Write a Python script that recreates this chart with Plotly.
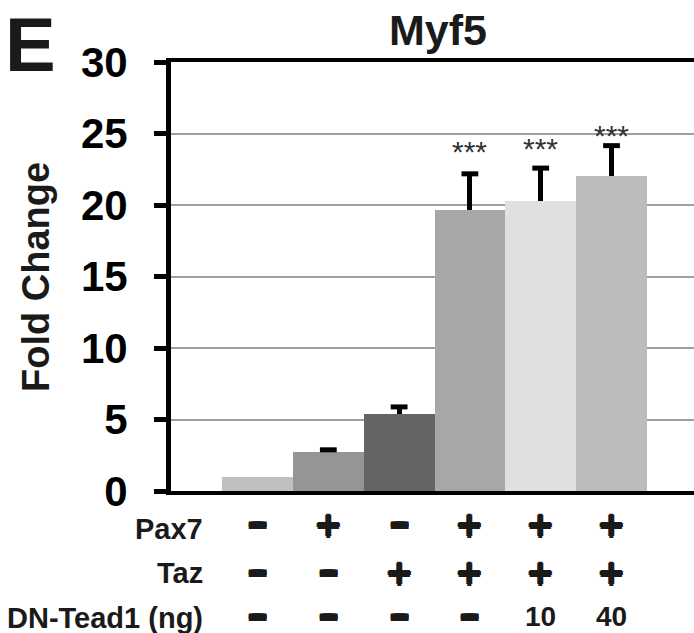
import plotly.graph_objects as go

# ---------------- data ----------------
conditions = ["C1", "C2", "C3", "C4", "C5", "C6"]
fold_change = [1.0, 2.73, 5.38, 19.65, 20.28, 22.05]
error_up = [0.0, 0.15, 0.5, 2.53, 2.3, 2.1]
significance = ["", "", "", "***", "***", "***"]
row_labels = ["Pax7", "Taz", "DN-Tead1 (ng)"]
pax7 = ["-", "+", "-", "+", "+", "+"]
taz = ["-", "-", "+", "+", "+", "+"]
dn_tead1 = ["-", "-", "-", "-", "10", "40"]
y_ticks = [0, 5, 10, 15, 20, 25, 30]
title_text = "Myf5"
panel_letter = "E"
y_title = "Fold Change"

# ---------------- styles ----------------
bar_colors = ["#c0c0c0", "#959595", "#646464", "#a7a7a5", "#e0e0e0", "#bcbcbc"]
FONT = "Liberation Sans, Arial, Helvetica, sans-serif"
SIGN_FONT = "DejaVu Sans, Liberation Sans, sans-serif"
INK = "#1a1a1a"
HEAVY_PLUS = ", ".join("%s %s 0 %s" % (dx, dy, INK) for dx, dy in
                       [("1px", "0"), ("-1px", "0"), ("0", "1.5px"), ("0", "-1.5px")])
HEAVY_DASH = ", ".join("%spx %spx 0 %s" % (dx, dy, INK)
                       for dx in (-4, -2, 0, 2, 4) for dy in (-1.5, 0, 1.5)
                       if not (dx == 0 and dy == 0))
W_PX, H_PX = 694, 633
L, R, T, B = 171, 0, 62, 142
PW = W_PX - L - R
PH = H_PX - T - B


def px_x(px):
    return (px - L) / PW


def px_y(py):
    return (H_PX - B - py) / PH


x_idx = list(range(len(conditions)))

fig = go.Figure()
fig.add_trace(go.Bar(
    x=x_idx, y=fold_change,
    marker=dict(color=bar_colors, line=dict(width=0)),
    width=1.0,
    error_y=dict(type="data", symmetric=False, array=error_up,
                 arrayminus=[0] * len(error_up), width=0,
                 thickness=5, color="#000000"),
    showlegend=False, hoverinfo="skip",
))
# error-bar caps
cap_x = [i for i, e in zip(x_idx, error_up) if e > 0]
cap_y = [v + e for v, e in zip(fold_change, error_up) if e > 0]
fig.add_trace(go.Scatter(
    x=cap_x, y=cap_y, mode="markers",
    marker=dict(symbol="line-ew", size=12, line=dict(width=5, color="#000000"), color="#000000"),
    showlegend=False, hoverinfo="skip",
))

annotations = []
# significance stars
star_shift = [0, 0, 0, 22, 20, 10]
for i, s in enumerate(significance):
    if s:
        annotations.append(dict(
            x=i, y=fold_change[i] + error_up[i], xref="x", yref="y",
            text=s, showarrow=False, yshift=star_shift[i],
            font=dict(family=FONT, size=30, color="#333333"),
        ))

# title, panel letter, y title
annotations.append(dict(x=px_x(438), y=px_y(30), xref="paper", yref="paper",
                        text=title_text, showarrow=False, xanchor="center", yanchor="middle",
                        font=dict(family=FONT, size=43, color=INK, weight="bold")))
annotations.append(dict(x=px_x(30), y=px_y(45), xref="paper", yref="paper",
                        text=panel_letter, showarrow=False, xanchor="center", yanchor="middle",
                        font=dict(family=FONT, size=76, color=INK, weight="bold")))
annotations.append(dict(x=px_x(35.5), y=px_y(277.5), xref="paper", yref="paper",
                        text=y_title, showarrow=False, textangle=-90,
                        xanchor="center", yanchor="middle",
                        font=dict(family=FONT, size=38, color=INK, weight="bold")))

# condition table below the axis
row_label_y = [528.5, 573, 618]
row_sign_y = [524, 572, 616]
rows = [pax7, taz, dn_tead1]
for r, (lab, vals) in enumerate(zip(row_labels, rows)):
    annotations.append(dict(x=px_x(205), y=px_y(row_label_y[r]), xref="paper", yref="paper",
                            text=lab, showarrow=False, xanchor="right", yanchor="middle",
                            font=dict(family=FONT, size=29, color=INK, weight="bold")))
    for i, v in enumerate(vals):
        if v == "-":
            font = dict(family=SIGN_FONT, size=32, color=INK, weight="bold", shadow=HEAVY_DASH)
            shift = 1
        elif v == "+":
            font = dict(family=SIGN_FONT, size=34, color=INK, weight="bold", shadow=HEAVY_PLUS)
            shift = 0
        else:
            font = dict(family=FONT, size=28, color=INK, weight="bold")
            shift = 0
        annotations.append(dict(x=i, y=px_y(row_sign_y[r]), xref="x", yref="paper",
                                text=v, showarrow=False, xanchor="center", yanchor="middle",
                                yshift=shift, font=font))

fig.update_layout(
    width=W_PX, height=H_PX,
    margin=dict(l=L, r=R, t=T, b=B, pad=0),
    paper_bgcolor="white", plot_bgcolor="white",
    bargap=0,
    annotations=annotations,
    xaxis=dict(range=[-1.222, 6.165], showticklabels=False, ticks="",
               showgrid=False, zeroline=False,
               showline=True, linewidth=4, linecolor="#000000", mirror=True),
    yaxis=dict(range=[0, 30], tickvals=y_ticks, ticks="outside", ticklen=12,
               tickwidth=5, tickcolor="#000000",
               showline=True, linewidth=5, linecolor="#000000", mirror=False,
               showgrid=True, gridcolor="#a0a0a0", gridwidth=2, zeroline=False,
               ticklabelstandoff=18,
               tickfont=dict(family=FONT, size=42, color="#000000", weight="bold")),
)

fig.write_html("out.html")
